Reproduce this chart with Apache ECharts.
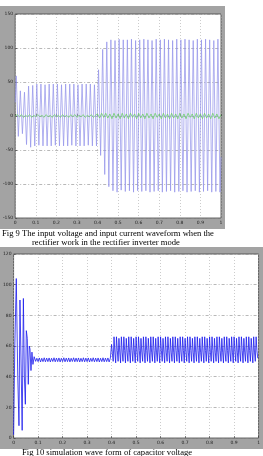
<!DOCTYPE html>
<html>
<head>
<meta charset="utf-8">
<script src="https://cdn.jsdelivr.net/npm/echarts@6/dist/echarts.min.js"></script>
<style>
  html, body { margin: 0; padding: 0; background: #fff; }
  #chart { width: 263px; height: 456px; }
</style>
</head>
<body>
<div id="chart"></div>
<script>
// Fig 9: input voltage, one extreme per half cycle (50 Hz), first one at t = 0.005
const voltStart = 0.005;
const voltStep = 0.01;
const voltage = [
  59, -30, 37, -26, 35, -42, 44, -46, 45, -44,
  47, -43, 47, -44, 46, -44, 47, -44, 47, -43,
  47, -44, 46, -44, 47, -44, 47, -43, 47, -44,
  46, -44, 47, -44, 47, -43, 47, -44, 46, -44,
  68, -58, 98, -86, 109, -104, 112, -110, 111, -112,
  113, -109, 112, -111, 112, -110, 113, -112, 111, -110,
  112, -111, 113, -110, 112, -112, 111, -111, 113, -110,
  112, -112, 113, -111, 112, -110, 111, -112, 113, -111,
  112, -110, 113, -112, 112, -111, 111, -110, 113, -112,
  112, -111, 113, -110, 112, -112, 111, -111, 113, -112
];
// Fig 9: input current, sampled every 0.01 s from t = 0
const currStep = 0.01;
const current = [
  0, 2, -1, 2, -2, 1, -1, 2, -2, 1,
  -1, 2, -1, 1, -2, 2, -1, 1, -2, 2,
  -1, 1, -2, 2, -1, 1, -2, 2, -1, 2,
  -2, 1, -1, 2, -2, 1, -1, 2, -2, 1,
  3, -3, 4, -2, 4, -3, 3, -4, 4, -3,
  3, -4, 4, -3, 3, -4, 4, -2, 3, -4,
  4, -3, 3, -4, 4, -3, 3, -4, 4, -2,
  3, -4, 4, -3, 3, -4, 4, -3, 3, -4,
  4, -3, 3, -4, 4, -2, 3, -4, 4, -3,
  3, -4, 4, -3, 3, -4, 4, -3, 3, -4, 2
];

// Fig 10: capacitor voltage start-up transient [t, v]
const capTransient = [
  [0, 2], [0.005, 60], [0.011, 104], [0.017, 40], [0.022, 8],
  [0.026, 90], [0.031, 45], [0.035, 5], [0.04, 91], [0.044, 40],
  [0.048, 22], [0.052, 70], [0.056, 65], [0.06, 35], [0.064, 60],
  [0.067, 58], [0.071, 44], [0.075, 56], [0.079, 48], [0.084, 53]
];
// Fig 10: small ripple before the step, every 0.005 s from t = 0.09
const rippleStart = 0.09;
const rippleStep = 0.005;
const capRipple = [
  50, 52, 49.8, 52.2, 49.6, 52, 49.8, 52.3, 49.7, 52.1,
  49.8, 52.2, 49.6, 52, 49.9, 52.3, 49.7, 52.1, 49.8, 52.2,
  49.6, 52, 49.8, 52.3, 49.7, 52.1, 49.8, 52.2, 49.6, 52,
  49.9, 52.3, 49.7, 52.1, 49.8, 52.2, 49.6, 52, 49.8, 52.3,
  49.7, 52.1, 49.8, 52.2, 49.6, 52, 49.9, 52.3, 49.7, 52.1,
  49.8, 52.2, 49.6, 52, 49.8, 52.3, 49.7, 52.1, 49.8, 52.2,
  49.6, 52
];
// Fig 10: ripple after the step, three samples per 0.01 s period from t = 0.4
const afterStart = 0.4;
const afterStep = 0.01 / 3;
const capAfter = [
  61, 55, 50,  66, 56, 49,  66, 57, 50,  65, 56, 49,  66, 56, 50,
  66, 57, 49,  65, 56, 50,  66, 56, 49,  66, 57, 50,  65, 56, 49,
  66, 56, 50,  66, 57, 49,  65, 56, 50,  66, 56, 49,  66, 57, 50,
  65, 56, 49,  66, 56, 50,  66, 57, 49,  65, 56, 50,  66, 56, 49,
  66, 57, 50,  65, 56, 49,  66, 56, 50,  66, 57, 49,  65, 56, 50,
  66, 56, 49,  66, 57, 50,  65, 56, 49,  66, 56, 50,  66, 57, 49,
  65, 56, 50,  66, 56, 49,  66, 57, 50,  65, 56, 49,  66, 56, 50,
  66, 57, 49,  65, 56, 50,  66, 56, 49,  66, 57, 50,  65, 56, 49,
  66, 56, 50,  66, 57, 49,  65, 56, 50,  66, 56, 49,  66, 57, 50,
  65, 56, 49,  66, 56, 50,  66, 57, 49,  65, 56, 50,  66, 56, 49,
  66, 57, 50,  65, 56, 49,  66, 56, 50,  66, 57, 49,  65, 56, 50,
  66, 56, 49,  66, 57, 50,  65, 56, 49,  66, 56, 50,  66, 57, 52
];

const caption9a = 'Fig 9 The input voltage and input current waveform when the';
const caption9b = 'rectifier work in the rectifier inverter mode';
const caption10 = 'Fig 10 simulation wave form of capacitor voltage';

const voltData = [[0, 20]].concat(voltage.map((v, i) => [voltStart + i * voltStep, v]));
voltData.push([1, -60]);
const currData = current.map((v, i) => [i * currStep, v]);
const capData = capTransient
  .concat(capRipple.map((v, i) => [rippleStart + i * rippleStep, v]))
  .concat(capAfter.map((v, i) => [afterStart + i * afterStep, v]));

const myChart = echarts.init(document.getElementById('chart'), null, { renderer: 'canvas' });

const tickLabel = { fontSize: 4.5, color: '#222', margin: 2, fontFamily: 'DejaVu Sans' };
const xFmt = function (v) { return v === 0 || v === 1 ? String(v) : v.toFixed(1); };

function xAxisFor(gridIndex) {
  return {
    type: 'value', gridIndex, min: 0, max: 1, interval: 0.1,
    axisLine: { show: false },
    axisTick: { show: true, inside: true, length: 2, lineStyle: { color: '#333', width: 0.6 } },
    axisLabel: Object.assign({ formatter: xFmt }, tickLabel),
    splitLine: { show: true, lineStyle: { color: '#aaa', type: [1, 2], width: 0.6 } },
  };
}
function yAxisFor(gridIndex, min, max, interval) {
  return {
    type: 'value', gridIndex, min, max, interval,
    axisLine: { show: false },
    axisTick: { show: true, inside: true, length: 2, lineStyle: { color: '#333', width: 0.6 } },
    axisLabel: tickLabel,
    splitLine: { show: true, lineStyle: { color: '#888', type: [3, 2, 1, 2], width: 0.6 } },
  };
}

const option = {
  backgroundColor: '#fff',
  animation: false,
  graphic: [
    { type: 'rect', z: -10, shape: { x: 0, y: 6, width: 225, height: 223 }, style: { fill: '#a3a3a3' } },
    { type: 'rect', z: -10, shape: { x: 0, y: 247, width: 263, height: 202 }, style: { fill: '#a3a3a3' } },
    { type: 'text', left: 2, top: 229.5, style: { text: caption9a, font: '8.6px "Liberation Serif"', fill: '#000' } },
    { type: 'text', left: 32, top: 238, style: { text: caption9b, font: '8.6px "Liberation Serif"', fill: '#000' } },
    { type: 'text', left: 22, top: 448, style: { text: caption10, font: '8.6px "Liberation Serif"', fill: '#000' } },
  ],
  grid: [
    { left: 8, top: 14, width: 213, height: 204, show: true, backgroundColor: '#fff', borderColor: '#444', borderWidth: 0.8 },
    { left: 9, top: 254, width: 250, height: 184, show: true, backgroundColor: '#fff', borderColor: '#444', borderWidth: 0.8 },
  ],
  xAxis: [xAxisFor(0), xAxisFor(1)],
  yAxis: [yAxisFor(0, -150, 150, 50), yAxisFor(1, 0, 120, 20)],
  series: [
    {
      type: 'line', name: 'voltage', xAxisIndex: 0, yAxisIndex: 0, data: voltData,
      showSymbol: false, lineStyle: { color: '#9090ea', width: 0.7 },
    },
    {
      type: 'line', name: 'current', xAxisIndex: 0, yAxisIndex: 0, data: currData,
      showSymbol: false, lineStyle: { color: '#6fcf6f', width: 0.8 },
    },
    {
      type: 'line', name: 'capacitor', xAxisIndex: 1, yAxisIndex: 1, data: capData,
      showSymbol: false, lineStyle: { color: '#1a1aee', width: 0.8 },
    },
  ],
};

myChart.setOption(option);
</script>
</body>
</html>
